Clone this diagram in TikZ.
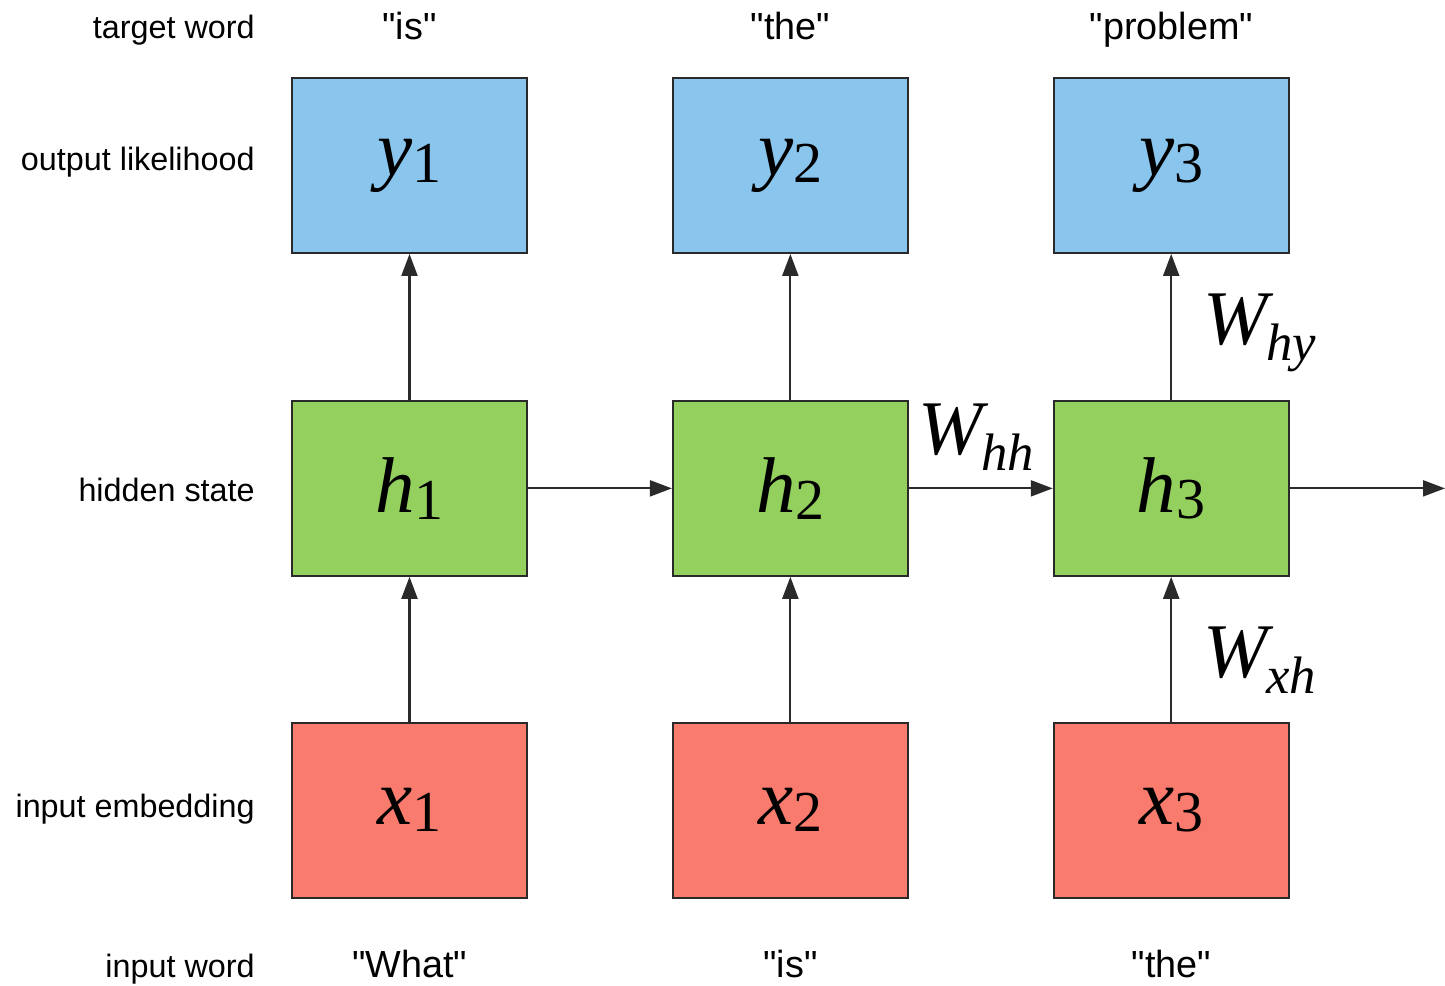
\documentclass[tikz,border=0pt]{standalone}
\usepackage{fontspec}
\setmainfont{Liberation Sans}
\newfontfamily\varfont{Liberation Serif}
\usetikzlibrary{arrows.meta, positioning}

\definecolor{outblue}{HTML}{89C5EC}
\definecolor{hidgreen}{HTML}{93D05E}
\definecolor{inred}{HTML}{F87B6E}
\definecolor{edge}{HTML}{2A2A2A}

\newcommand{\boxvar}[2]{{\varfont\fontsize{45}{45}\selectfont\itshape #1\fontsize{33}{33}\selectfont\upshape\raisebox{-0.12em}{#2}}}
\newcommand{\weight}[1]{{\varfont\fontsize{44}{44}\selectfont\itshape W\kern-0.02em\fontsize{30}{30}\selectfont\raisebox{-0.3em}{#1}}}
\newcommand{\qt}[1]{\textquotedbl#1\textquotedbl}

\begin{document}
\begin{tikzpicture}[
  x=0.02cm, y=-0.02cm,
  cell/.style = {draw=edge, line width=1.1pt, minimum width=4.7cm, minimum height=3.5cm, inner sep=0pt},
  outcell/.style = {cell, fill=outblue},
  hidcell/.style = {cell, fill=hidgreen},
  incell/.style = {cell, fill=inred},
  line/.style = {draw=edge, line width=1.2pt, -{Triangle[length=0.44cm, width=0.32cm]}},
  side/.style = {font=\fontsize{18.4}{18.4}\selectfont, anchor=base east, inner sep=0pt},
  word/.style = {font=\fontsize{21.5}{21.5}\selectfont, anchor=base, inner sep=0pt},
  wlabel/.style = {anchor=base west, inner sep=0pt}
]
\useasboundingbox (0,0) rectangle (1445,986);

% Cells
\node[outcell] (y1) at (409.5,165.5) {\boxvar{y}{1}};
\node[outcell, right=2.88cm of y1] (y2) {\boxvar{y}{2}};
\node[outcell, right=2.88cm of y2] (y3) {\boxvar{y}{3}};
\node[hidcell, below=2.92cm of y1] (h1) {\boxvar{h}{1}};
\node[hidcell, right=2.88cm of h1] (h2) {\boxvar{h}{2}};
\node[hidcell, right=2.88cm of h2] (h3) {\boxvar{h}{3}};
\node[incell, below=2.9cm of h1] (x1) {\boxvar{x}{1}};
\node[incell, right=2.88cm of x1] (x2) {\boxvar{x}{2}};
\node[incell, right=2.88cm of x2] (x3) {\boxvar{x}{3}};

% Row labels
\node[side] (lbltarget) at (255,39) {target word};
\node[side] (lblout) at (255,171) {output likelihood};
\node[side] (lblhid) at (255,502) {hidden state};
\node[side] (lblemb) at (255,817) {input embedding};
\node[side] (lblword) at (255,977) {input word};

% Words
\node[word] (t1) at (409.5,40) {\qt{is}};
\node[word] (t2) at (790.5,40) {\qt{the}};
\node[word] (t3) at (1171.5,40) {\qt{problem}};
\node[word] (w1) at (409.5,977) {\qt{What}};
\node[word] (w2) at (790.5,977) {\qt{is}};
\node[word] (w3) at (1171.5,977) {\qt{the}};

% Connections
\foreach \i in {1,2,3} {
  \draw[line] (x\i.north) -- (h\i.south);
  \draw[line] (h\i.north) -- (y\i.south);
}
\draw[line] (h1.east) -- (h2.west);
\draw[line] (h2.east) -- (h3.west);
\coordinate (hout) at (1445,0);
\draw[line] (h3.east) -- (h3.east -| hout);

% Weights
\node[wlabel] (whh) at (918,455) {\weight{hh}};
\node[wlabel] (why) at (1203,345) {\weight{hy}};
\node[wlabel] (wxh) at (1203,678) {\weight{xh}};

\end{tikzpicture}
\end{document}
